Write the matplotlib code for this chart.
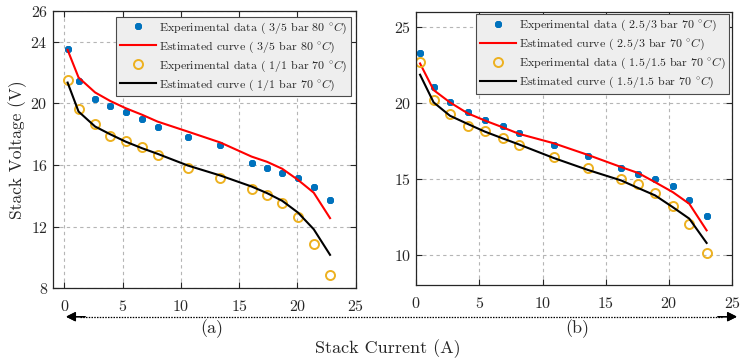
import numpy as np
import matplotlib
matplotlib.use('Agg')
from matplotlib import pyplot as plt
from matplotlib.lines import Line2D

plt.rcParams['font.family'] = ['cmr10', 'DejaVu Serif']
plt.rcParams['mathtext.fontset'] = 'cm'
plt.rcParams['axes.formatter.use_mathtext'] = True

# -----------------------------------------------
# (a) данные
current_a = [0.28, 1.22, 2.64, 3.93, 5.26, 6.68, 8.0, 10.6, 13.4, 16.07, 17.4, 18.7, 20.05, 21.4, 22.8]
exp_a_high = [23.53, 21.45, 20.3, 19.85, 19.42, 18.99, 18.49, 17.84, 17.26, 16.15, 15.83, 15.5, 15.18, 14.6, 13.71]
est_a_high = [23.46, 21.67, 20.7, 20.15, 19.68, 19.25, 18.81, 18.16, 17.45, 16.54, 16.2, 15.75, 15.03, 14.2, 12.55]
exp_a_low = [21.52, 19.64, 18.66, 17.9, 17.54, 17.15, 16.65, 15.83, 15.12, 14.43, 14.06, 13.54, 12.63, 10.84, 8.87]
est_a_low = [21.34, 19.46, 18.49, 17.99, 17.51, 17.08, 16.72, 15.96, 15.31, 14.6, 14.17, 13.67, 12.91, 11.83, 10.17]

# (b) данные
current_b = [0.32, 1.39, 2.68, 4.08, 5.45, 6.84, 8.16, 10.87, 13.58, 16.24, 17.58, 18.9, 20.29, 21.6, 22.97]
exp_b_high = [23.25, 21.01, 20.07, 19.37, 18.89, 18.5, 18.01, 17.25, 16.48, 15.69, 15.3, 14.97, 14.53, 13.6, 12.52]
est_b_high = [22.59, 20.84, 20.03, 19.31, 18.83, 18.39, 17.95, 17.34, 16.57, 15.76, 15.37, 14.77, 14.12, 13.35, 11.6]
exp_b_low = [22.7, 20.18, 19.26, 18.5, 18.17, 17.71, 17.25, 16.42, 15.69, 14.99, 14.64, 14.05, 13.18, 11.99, 10.13]
est_b_low = [21.85, 20.03, 19.15, 18.61, 18.1, 17.66, 17.25, 16.37, 15.58, 14.88, 14.38, 13.9, 13.13, 12.37, 10.77]

labels_a = [r'Experimental data ( 3/5 bar 80 $^{\circ}C$)', r'Estimated curve ( 3/5 bar 80 $^{\circ}C$)',
            r'Experimental data ( 1/1 bar 70 $^{\circ}C$)', r'Estimated curve ( 1/1 bar 70 $^{\circ}C$)']
labels_b = [r'Experimental data ( 2.5/3 bar 70 $^{\circ}C$)', r'Estimated curve ( 2.5/3 bar 70 $^{\circ}C$)',
            r'Experimental data ( 1.5/1.5 bar 70 $^{\circ}C$)', r'Estimated curve ( 1.5/1.5 bar 70 $^{\circ}C$)']
# -----------------------------------------------

blue = '#0072BD'
orange = '#EDB120'


def draw_panel(ax, x, eh, mh, el, ml, labels):
    ax.plot(x, eh, linestyle='none', marker=(8, 2, 0), ms=5, mew=1.5, color=blue, label=labels[0])
    ax.plot(x, mh, color='red', lw=1.5, label=labels[1])
    ax.plot(x, el, linestyle='none', marker='o', ms=6.5, mfc='none', mew=1.4, color=orange, label=labels[2])
    ax.plot(x, ml, color='black', lw=1.5, label=labels[3])
    ax.grid(True, linestyle=(0, (3, 3)), color='#b5b5b5', lw=0.8)
    ax.tick_params(direction='in', top=True, right=True, labelsize=11.5, colors='#262626',
                   length=4, width=0.8)
    ax.tick_params(axis='x', pad=8)
    for s in ax.spines.values():
        s.set_color('#262626')
        s.set_linewidth(0.9)


fig = plt.figure(figsize=(7.43, 3.58), dpi=100)
ax1 = fig.add_axes([0.0709, 0.1947, 0.4078, 0.7754])
ax2 = fig.add_axes([0.5599, 0.2039, 0.4257, 0.7634])

draw_panel(ax1, current_a, exp_a_high, est_a_high, exp_a_low, est_a_low, labels_a)
draw_panel(ax2, current_b, exp_b_high, est_b_high, exp_b_low, est_b_low, labels_b)

ax1.set_xlim(-1, 25)
ax1.set_ylim(8, 26)
ax1.set_xticks([0, 5, 10, 15, 20, 25])
ax1.set_yticks([8, 12, 16, 20, 24, 26])
ax1.set_ylabel('Stack Voltage (V)', fontsize=12.5, color='#262626', labelpad=2)

ax2.set_xlim(0, 25)
ax2.set_ylim(8, 26)
ax2.set_xticks([0, 5, 10, 15, 20, 25])
ax2.set_yticks([10, 15, 20, 25])

for ax, anchor in [(ax1, (0.983, 0.978)), (ax2, (0.9905, 0.99))]:
    leg = ax.legend(loc='upper right', bbox_to_anchor=anchor, borderaxespad=0, fontsize=8.6,
                    fancybox=False, framealpha=1, facecolor='#eeeeee', edgecolor='#4a4a4a',
                    handlelength=3.0, handletextpad=0.25, labelspacing=0.3, borderpad=0.3)
    leg.get_frame().set_linewidth(0.8)
    for t in leg.get_texts():
        t.set_color('#262626')

# Стрелка и подписи снизу
yy = 1 - 316.7 / 358
fig.add_artist(Line2D([80 / 743, 722 / 743], [yy, yy], transform=fig.transFigure,
                      color='black', lw=0.9, linestyle=(0, (1.2, 1))))
for tip, tail in [(66, 85), (737, 718)]:
    fig.add_artist(plt.annotate('', xy=(tip / 743, yy), xytext=(tail / 743, yy),
                                xycoords='figure fraction', textcoords='figure fraction',
                                arrowprops=dict(arrowstyle='-|>', color='black', lw=1,
                                                mutation_scale=14, shrinkA=0, shrinkB=0)))
fig.text(212 / 743, 1 - 329 / 358, '(a)', ha='center', va='center', fontsize=13, color='#262626')
fig.text(577 / 743, 1 - 329 / 358, '(b)', ha='center', va='center', fontsize=13, color='#262626')
fig.text(388 / 743, 1 - 349 / 358, 'Stack Current (A)', ha='center', va='center', fontsize=13, color='#262626')

fig.savefig('out.png', dpi=100)
